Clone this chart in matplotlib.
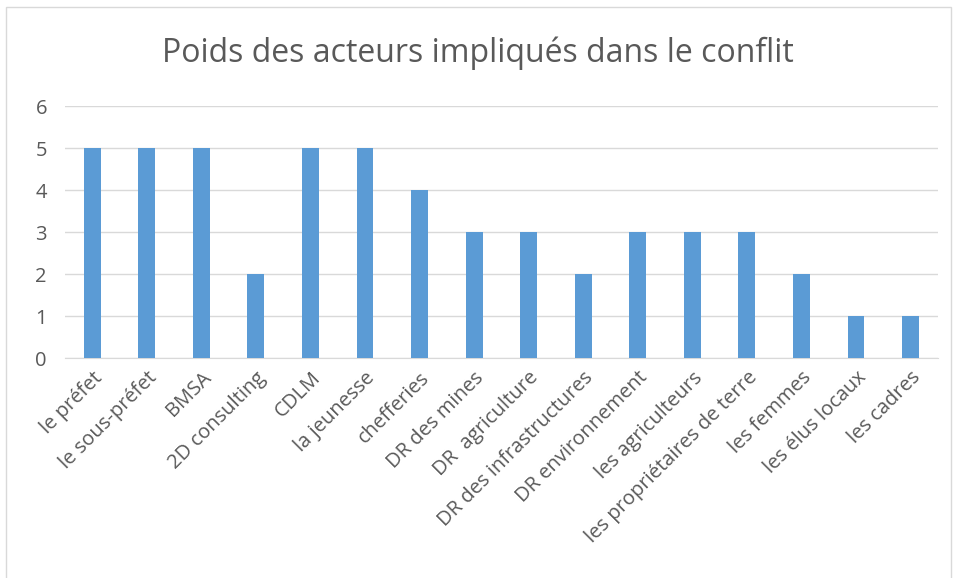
import matplotlib
matplotlib.use("Agg")
import matplotlib.pyplot as plt
from matplotlib.patches import Rectangle

plt.rcParams['font.family'] = ['Open Sans', 'DejaVu Sans']

acteurs = ["le préfet", "le sous-préfet", "BMSA", "2D consulting", "CDLM",
           "la jeunesse", "chefferies", "DR des mines", "DR  agriculture",
           "DR des infrastructures", "DR environnement", "les agriculteurs",
           "les propriétaires de terre", "les femmes", "les élus locaux",
           "les cadres"]
poids = [5, 5, 5, 2, 5, 5, 4, 3, 3, 2, 3, 3, 3, 2, 1, 1]

text_color = '#595959'

fig = plt.figure(figsize=(9.55, 5.78), dpi=100)
ax = fig.add_axes([0.068, 0.3806, 0.914, 0.436])

x = range(len(acteurs))
ax.bar(x, poids, width=0.31, color='#5B9BD5', zorder=3)

ax.set_xlim(-0.5, len(acteurs) - 0.5)
ax.set_ylim(0, 6)
ax.set_yticks(range(0, 7))
ax.yaxis.grid(True, color='#D9D9D9', linewidth=1, zorder=0)
ax.set_xticks(list(x))
ax.set_xticklabels(acteurs, rotation=45, ha='right', rotation_mode='anchor')

for s in ['top', 'right', 'left']:
    ax.spines[s].set_visible(False)
ax.spines['bottom'].set_color('#D9D9D9')
ax.tick_params(axis='both', length=0, labelsize=14.5, colors=text_color)
ax.tick_params(axis='y', pad=13)
ax.tick_params(axis='x', pad=7)

fig.text(0.5, 0.908, "Poids des acteurs impliqués dans le conflit",
         ha='center', va='center', fontsize=23, color=text_color)

# chart area border
fig.patches.append(Rectangle((0.006, -0.01), 0.99, 0.998, transform=fig.transFigure,
                             fill=False, edgecolor='#D9D9D9', linewidth=1))

fig.savefig("out.png", dpi=100)
